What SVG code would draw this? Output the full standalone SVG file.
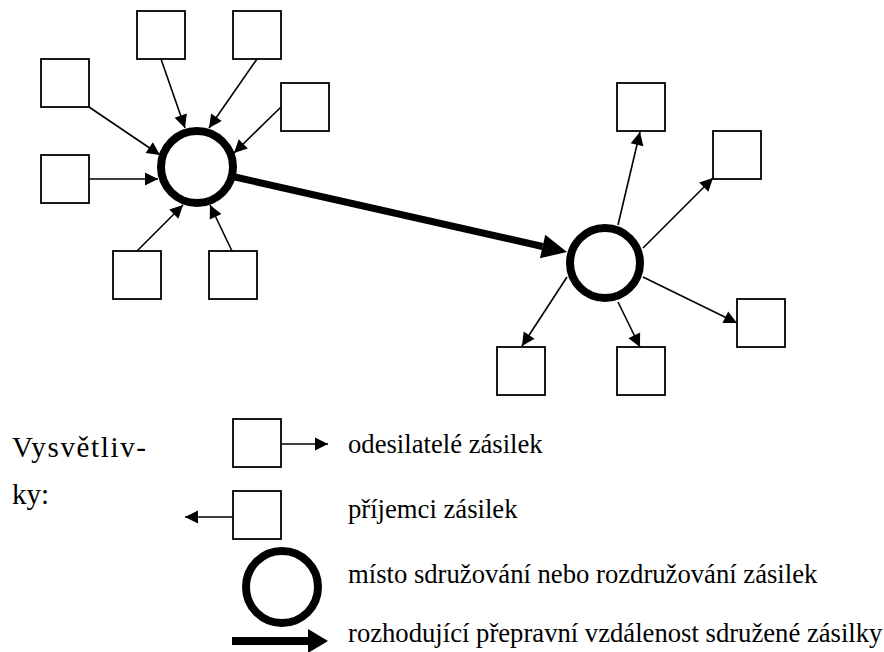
<svg xmlns="http://www.w3.org/2000/svg" width="884" height="652" viewBox="0 0 884 652">
<style>
.box{fill:#fff;stroke:#000;stroke-width:1.8}
.hub{fill:#fff;stroke:#000;stroke-width:8}
.ln{stroke:#000;stroke-width:1.6;fill:none;marker-end:url(#ah)}
.thick{stroke:#000;stroke-width:7;fill:none;marker-end:url(#bh)}
</style>
<defs>
<marker id="ah" markerUnits="userSpaceOnUse" markerWidth="14" markerHeight="13" refX="13" refY="6.5" orient="auto" overflow="visible">
<path d="M0,0 L13,6.5 L0,13 z" fill="#000"/>
</marker>
<marker id="bh" markerUnits="userSpaceOnUse" markerWidth="26" markerHeight="24" refX="0" refY="12" orient="auto" overflow="visible">
<path d="M0,0 L25,12 L0,24 z" fill="#000"/>
</marker>
<marker id="bh2" markerUnits="userSpaceOnUse" markerWidth="21" markerHeight="24" refX="0" refY="12" orient="auto" overflow="visible">
<path d="M0,0 L20,12 L0,24 z" fill="#000"/>
</marker>
</defs>

<g id="connectors">
<line class="ln" x1="89" y1="107" x2="160" y2="155"/>
<line class="ln" x1="161" y1="59" x2="185" y2="128"/>
<line class="ln" x1="257" y1="59" x2="209" y2="128"/>
<line class="ln" x1="281" y1="107" x2="234" y2="153"/>
<line class="ln" x1="89" y1="179" x2="158" y2="179"/>
<line class="ln" x1="137" y1="251" x2="183" y2="205"/>
<line class="ln" x1="232" y1="251" x2="210" y2="205"/>
<line class="thick" x1="235" y1="177" x2="542.6" y2="246.5"/>
<line class="ln" x1="618" y1="225" x2="640" y2="132"/>
<line class="ln" x1="643" y1="248" x2="713" y2="178"/>
<line class="ln" x1="643" y1="277" x2="737" y2="323"/>
<line class="ln" x1="567" y1="277" x2="522" y2="346"/>
<line class="ln" x1="618" y1="302" x2="640" y2="347"/>
</g>

<g id="hub1"><circle class="hub" cx="197" cy="167" r="36"/></g>
<g id="hub2"><circle class="hub" cx="605" cy="263" r="35"/></g>

<g id="s1"><rect class="box" x="41" y="59" width="48" height="48"/></g>
<g id="s2"><rect class="box" x="137" y="11" width="48" height="48"/></g>
<g id="s3"><rect class="box" x="233" y="11" width="48" height="48"/></g>
<g id="s4"><rect class="box" x="281" y="83" width="48" height="48"/></g>
<g id="s5"><rect class="box" x="41" y="155" width="48" height="48"/></g>
<g id="s6"><rect class="box" x="113" y="251" width="48" height="48"/></g>
<g id="s7"><rect class="box" x="209" y="251" width="48" height="48"/></g>

<g id="r1"><rect class="box" x="617" y="83" width="48" height="48"/></g>
<g id="r2"><rect class="box" x="713" y="131" width="48" height="48"/></g>
<g id="r3"><rect class="box" x="737" y="299" width="48" height="48"/></g>
<g id="r4"><rect class="box" x="497" y="347" width="48" height="48"/></g>
<g id="r5"><rect class="box" x="617" y="347" width="48" height="48"/></g>

<g id="legend" font-family="'Liberation Serif', 'Times New Roman', serif" font-size="26.67" fill="#000">
<text x="12" y="457" font-size="29" textLength="134" lengthAdjust="spacing">Vysvětliv-</text>
<text x="12" y="504" font-size="29">ky:</text>
<rect class="box" x="233" y="419" width="48" height="48"/>
<line class="ln" x1="281" y1="444" x2="328" y2="444"/>
<text x="348" y="453">odesilatelé zásilek</text>
<rect class="box" x="233" y="491" width="48" height="48"/>
<line class="ln" x1="233" y1="517" x2="185" y2="517"/>
<text x="348" y="518">příjemci zásilek</text>
<circle class="hub" cx="282" cy="587" r="36"/>
<text x="348" y="583">místo sdružování nebo rozdružování zásilek</text>
<line x1="232" y1="641" x2="308" y2="641" stroke="#000" stroke-width="8" marker-end="url(#bh2)"/>
<text x="348" y="642">rozhodující přepravní vzdálenost sdružené zásilky</text>
</g>
</svg>
